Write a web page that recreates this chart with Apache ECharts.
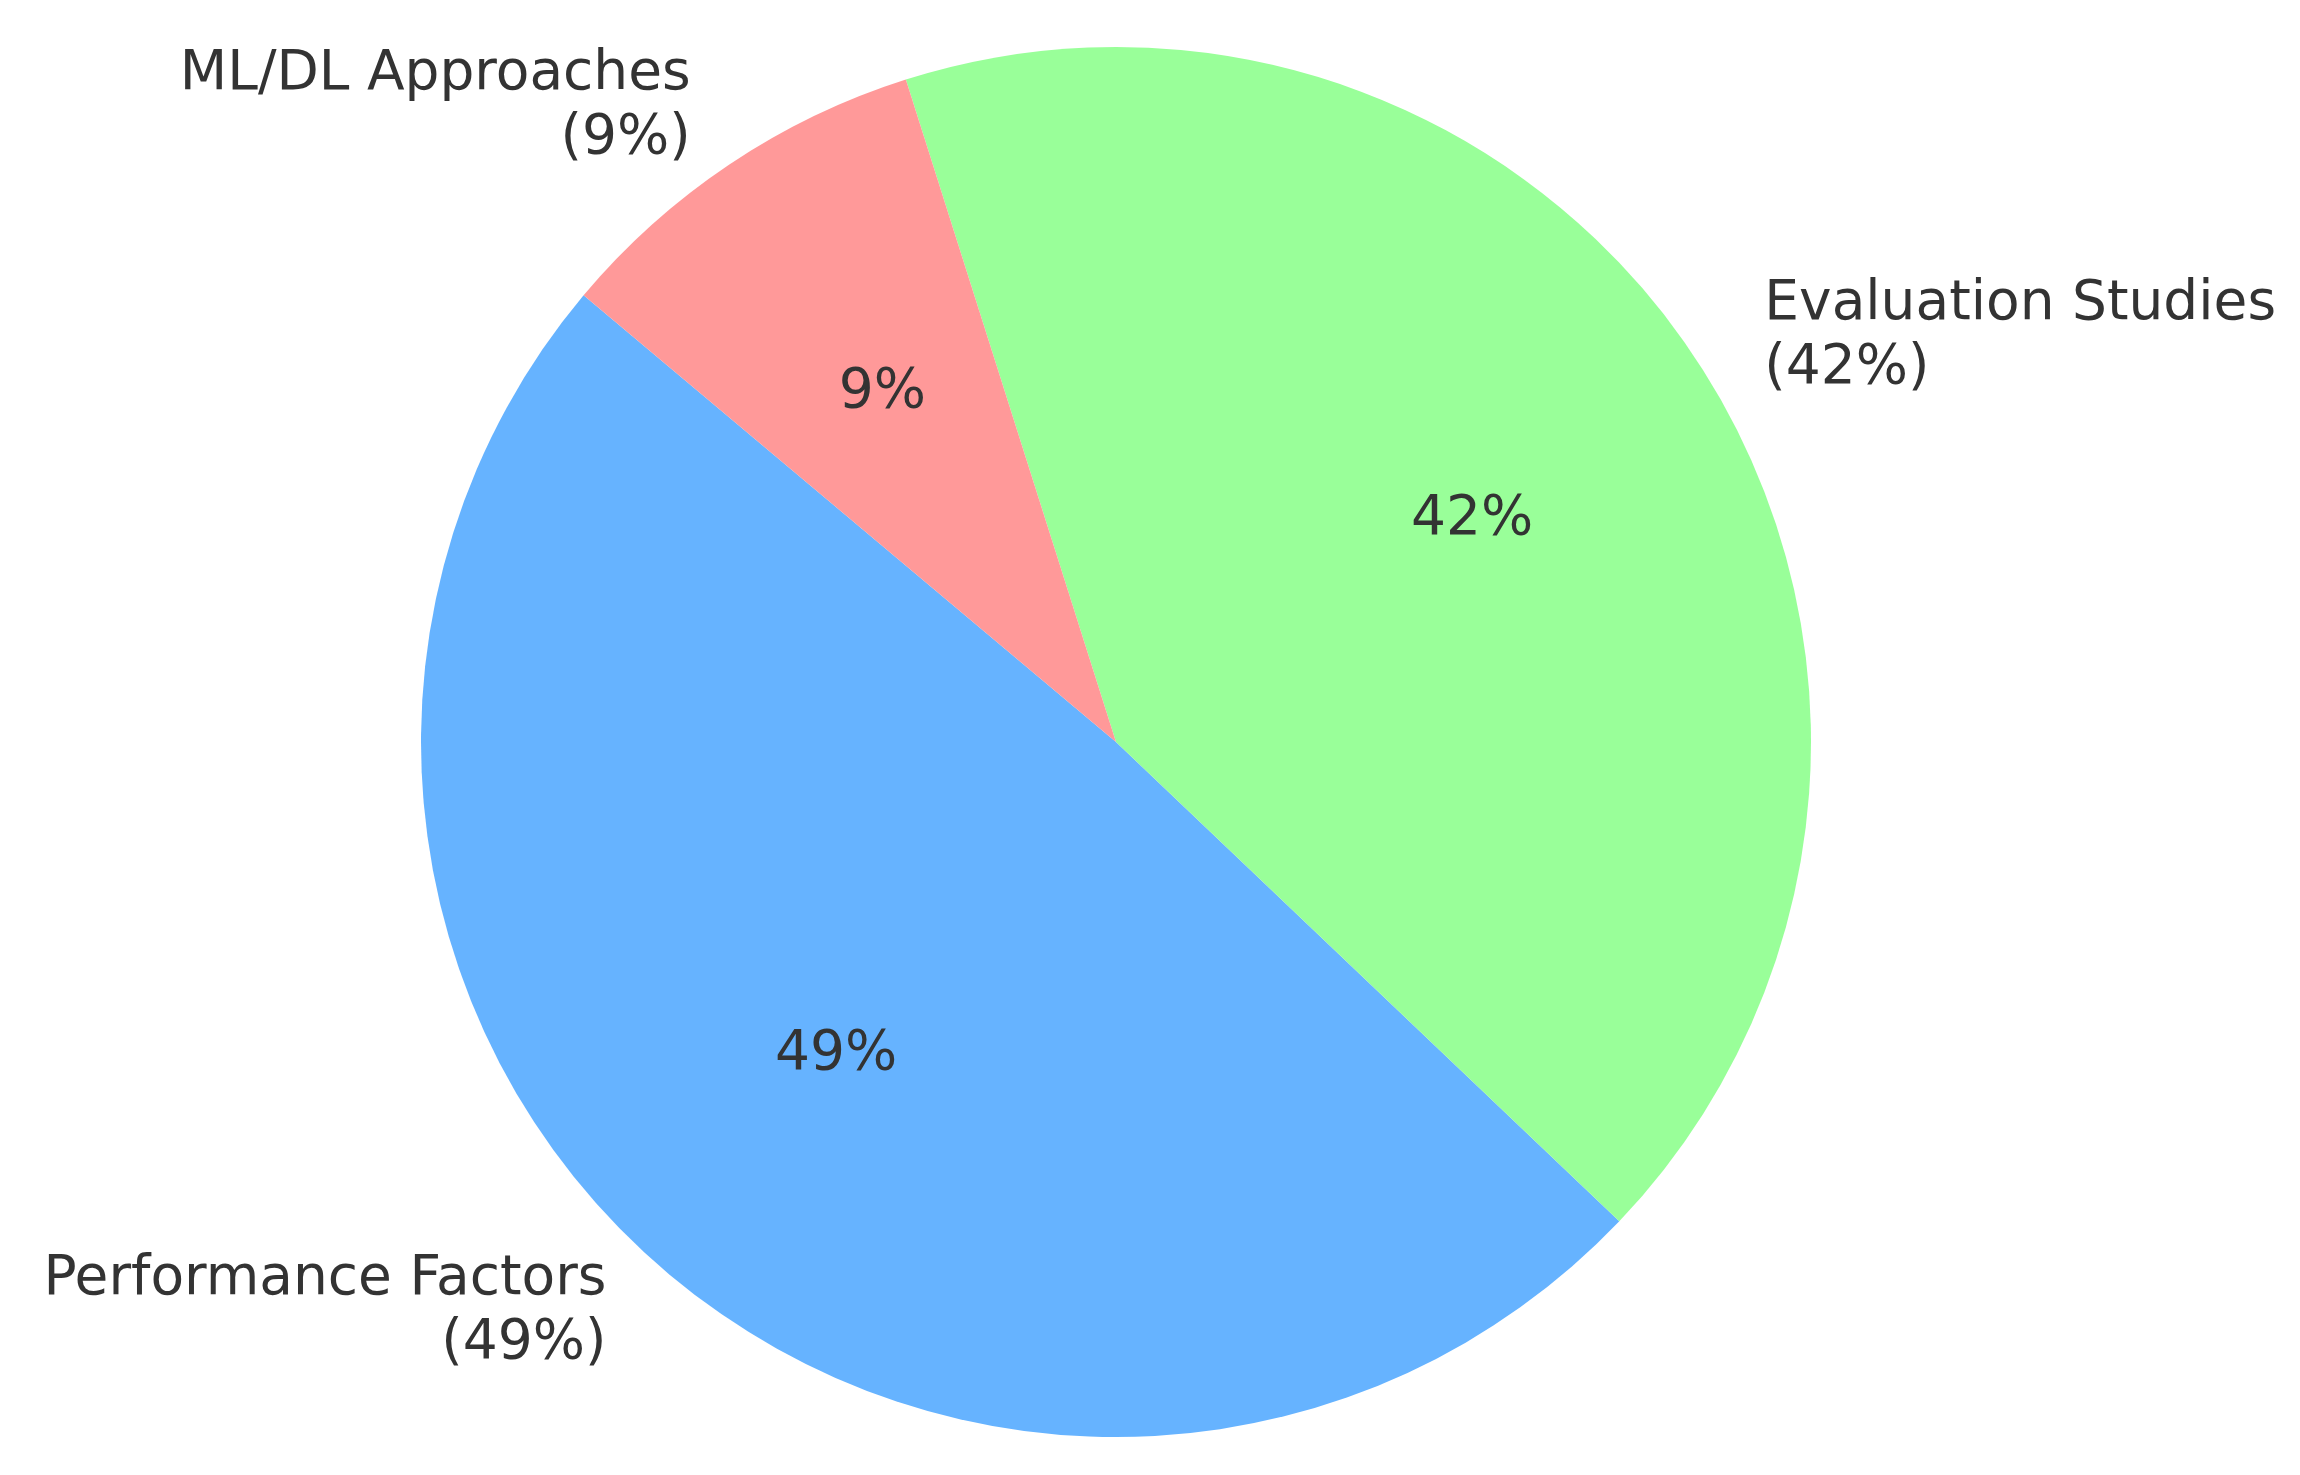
<!DOCTYPE html>
<html>
<head>
<meta charset="utf-8">
<script src="https://cdn.jsdelivr.net/npm/echarts@6/dist/echarts.min.js"></script>
<style>
html,body{margin:0;padding:0;background:#fff;}
#chart{width:2300px;height:1475px;}
</style>
</head>
<body>
<div id="chart"></div>
<script>
const categories = ['Performance Factors', 'Evaluation Studies', 'ML/DL Approaches'];
const values = [49, 42, 9];
const colors = ['#66b3ff', '#99ff99', '#ff9999'];

const R = 695;
const CX = 1116, CY = 742;
const FONT = 'DejaVu Sans';

const data = categories.map((c, i) => ({ name: c, value: values[i], itemStyle: { color: colors[i] } }));

const chart = echarts.init(document.getElementById('chart'), null, { renderer: 'canvas' });
chart.setOption({
  backgroundColor: '#ffffff',
  animation: false,
  series: [
    {
      type: 'pie',
      center: [CX, CY],
      radius: [0, R],
      startAngle: 140,
      clockwise: false,
      avoidLabelOverlap: false,
      percentPrecision: 0,
      silent: true,
      itemStyle: { borderWidth: 0 },
      emphasis: { disabled: true },
      data: data,
      label: {
        show: true,
        position: 'outside',
        formatter: '{b}\n({c}%)',
        fontFamily: FONT,
        fontSize: 55,
        lineHeight: 64,
        color: '#333333',
        distanceToLabelLine: 0,
        bleedMargin: 0,
        overflow: 'none'
      },
      labelLine: { show: false, length: R * 0.1, length2: 0 }
    },
    {
      type: 'pie',
      center: [CX, CY],
      radius: [R * 0.2, R],
      startAngle: 140,
      clockwise: false,
      avoidLabelOverlap: false,
      silent: true,
      itemStyle: { color: 'rgba(0,0,0,0)', borderWidth: 0 },
      emphasis: { disabled: true },
      data: categories.map((c, i) => ({ name: c, value: values[i] })),
      label: {
        show: true,
        position: 'inside',
        formatter: '{c}%',
        fontFamily: FONT,
        fontSize: 55,
        color: '#333333'
      },
      labelLine: { show: false }
    }
  ]
});
</script>
</body>
</html>
